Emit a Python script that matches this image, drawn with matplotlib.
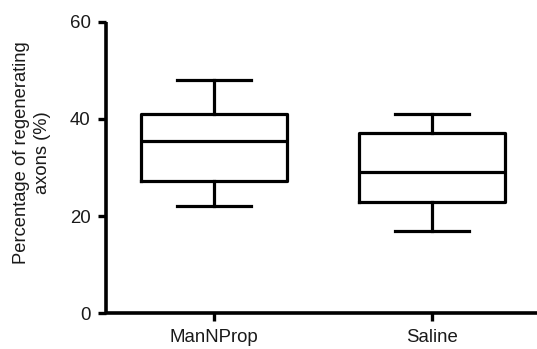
import matplotlib
matplotlib.use("Agg")
import matplotlib.pyplot as plt

categories = ["ManNProp", "Saline"]
whislo = [22, 17]
q1 = [27.3, 23]
med = [35.5, 29]
q3 = [41, 37]
whishi = [48, 41]
yticks = [0, 20, 40, 60]

plt.rcParams['font.family'] = ['Liberation Sans', 'DejaVu Sans']
fig = plt.figure(figsize=(5.37, 3.49), dpi=100)
ax = fig.add_axes([106/537, 35.7/349, 1 - 106/537, (313.3 - 21.7)/349])

stats = []
for i, c in enumerate(categories):
    stats.append(dict(label=c, whislo=whislo[i], q1=q1[i], med=med[i],
                      q3=q3[i], whishi=whishi[i], fliers=[]))

lw = 2.3
ax.bxp(stats, positions=[0, 1], widths=0.668, capwidths=0.342, showfliers=False,
       boxprops=dict(color='black', linewidth=lw),
       medianprops=dict(color='black', linewidth=lw),
       whiskerprops=dict(color='black', linewidth=lw),
       capprops=dict(color='black', linewidth=lw))

ax.set_xlim(-0.495, 1.482)
ax.set_ylim(0, 60)
ax.set_yticks(yticks)
ax.set_xticks([0, 1])
ax.set_xticklabels(categories)
for s in ['top', 'right']:
    ax.spines[s].set_visible(False)
for s in ['left', 'bottom']:
    ax.spines[s].set_linewidth(2.6)
    ax.spines[s].set_capstyle('butt')
ax.tick_params(axis='both', width=2.4, length=6, labelsize=13.4,
               colors='black', labelcolor='#1a1a1a', pad=5)
fig.text(32/537, 1 - 153/349, "Percentage of regenerating\naxons (%)",
         rotation=90, ha='center', va='center', fontsize=13.2,
         color='#1a1a1a', linespacing=1.35, multialignment='center')

fig.savefig("out.png", dpi=100)
